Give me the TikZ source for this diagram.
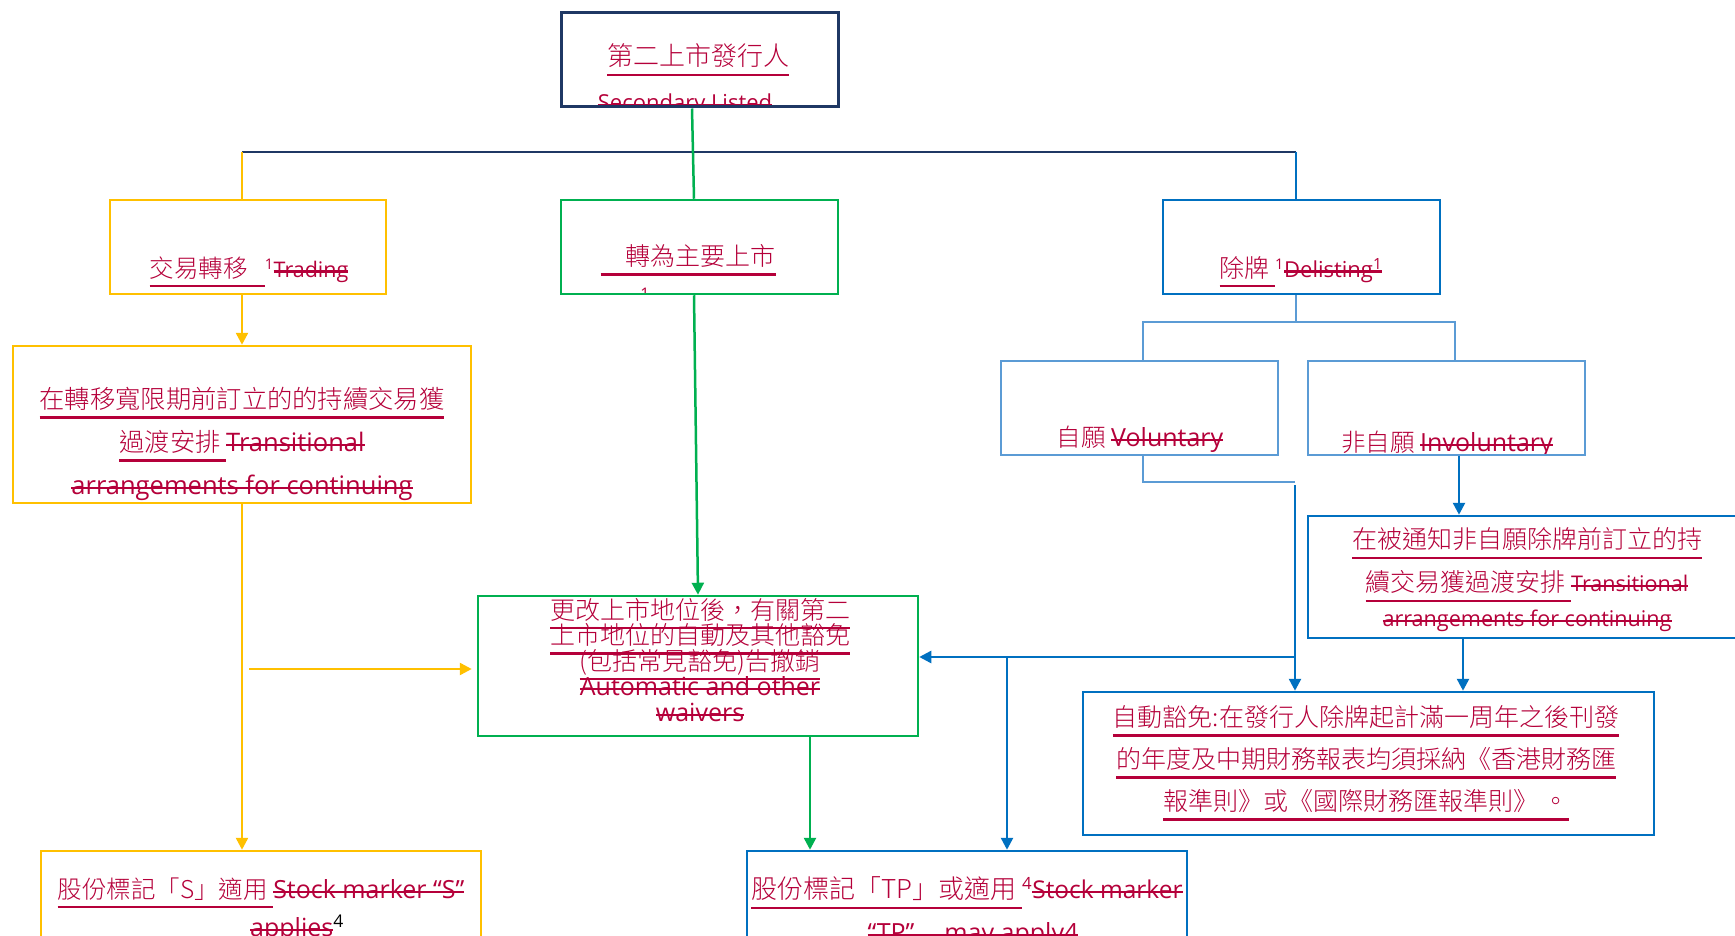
\documentclass[tikz,border=0pt]{standalone}
\usepackage{fontspec}
\usetikzlibrary{arrows.meta}
\setmainfont{Open Sans}
\newfontfamily\cjk{Noto Sans CJK TC Light}
\definecolor{navy}{HTML}{1F3864}
\definecolor{ylw}{HTML}{FFC000}
\definecolor{grn}{HTML}{00B050}
\definecolor{blu}{HTML}{0070C0}
\definecolor{lblu}{HTML}{5B9BD5}
\definecolor{ired}{HTML}{B5003A}
\setlength{\lineskiplimit}{-\maxdimen}
% underlined chinese, struck english
\newcommand{\zu}[2]{{\cjk\fontsize{#1}{#1}\selectfont\setbox0\hbox{#2}\rlap{\rule[-0.4em]{\wd0}{2.4pt}}\box0}}
\newcommand{\en}[2]{{\fontsize{#1}{#1}\selectfont\setbox0\hbox{#2}\rlap{\rule[0.22em]{\wd0}{2.2pt}}\box0}}
\tikzset{
  bx/.style={draw, line width=2.5pt, inner sep=0pt},
  txt/.style={text=ired, inner sep=0pt, align=center},
  arr/.style={-{Triangle[width=12pt,length=12pt]}, line width=2.5pt},
  thinln/.style={line width=1.5pt},
}
\begin{document}
\begin{tikzpicture}[x=1pt, y=-1pt]
\path[use as bounding box, fill=white] (0,0) rectangle (1735,936);
\clip (0,0) rectangle (1735,936);

% texts
\node[txt] (tTop) at (698,60) {\zu{26}{第二上市發行人}};
\begin{scope}
  \clip (561,13) rectangle (838,107);
  \node[txt, anchor=base] (tTop2) at (685,111) {\en{22}{Secondary Listed}};
\end{scope}
\node[txt, font=\fontsize{21}{26}\selectfont] (tTrade) at (249,272) {\zu{24.5}{交易轉移\hspace{0.7em}}\textsuperscript{1}\en{21.5}{Trading}};
\node[txt] (tPrim) at (688,260) {\zu{25}{　轉為主要上市}};
\begin{scope}
  \clip (561,200) rectangle (838,294);
  \node[txt, anchor=north, font=\fontsize{16}{16}\selectfont] (tPrim2) at (645,288) {1};
\end{scope}
\node[txt, font=\fontsize{21}{26}\selectfont] (tDelist) at (1301,272) {\zu{25}{除牌\ }\textsuperscript{1}\en{22}{Delisting\textsuperscript{1}}};
\node[txt, font=\fontsize{25.5}{43}\selectfont] (tTransY) at (242,444) {\zu{25.3}{在轉移寬限期前訂立的的持續交易獲}\\ \zu{25.3}{過渡安排\ }\en{25.5}{Transitional}\\ \en{25.5}{arrangements for continuing}};
\node[txt, font=\fontsize{25}{30}\selectfont] (tVol) at (1140,441) {\zu{24.5}{自願\ }\en{25}{Voluntary}};
\begin{scope}
  \clip (1308,361) rectangle (1585,455);
  \node[txt, font=\fontsize{25}{30}\selectfont] (tInvol) at (1447,446) {\zu{24.5}{非自願\ }\en{25}{Involuntary}};
\end{scope}
\node[txt, font=\fontsize{25}{25.5}\selectfont] (tWaiver) at (700,660) {\zu{25}{更改上市地位後，有關第二}\\ \zu{25}{上市地位的自動及其他豁免}\\ \zu{25}{(包括常見豁免)告撤銷}\\ \en{25}{Automatic and other}\\ \en{25}{waivers}};
\node[txt, font=\fontsize{21.6}{43}\selectfont] (tNotice) at (1527,580) {\zu{25}{在被通知非自願除牌前訂立的持}\\ \zu{25}{續交易獲過渡安排\ }\en{21.6}{Transitional}\\[-8pt] \en{21.6}{arrangements for continuing}};
\node[txt, font=\fontsize{25}{42}\selectfont] (tAuto) at (1366,763) {\zu{25}{自動豁免:在發行人除牌起計滿一周年之後刊發}\\ \zu{25}{的年度及中期財務報表均須採納《香港財務匯}\\ \zu{25}{報準則》或《國際財務匯報準則》 。}};
\node[txt, font=\fontsize{25}{30}\selectfont] (tMarkS) at (261,893) {\zu{24.5}{股份標記「S」適用\ }\en{25}{Stock marker “S”}};
\node[txt, font=\fontsize{25}{30}\selectfont] (tMarkS2) at (297,929) {\en{25}{applies}\textsuperscript{\color{black}4}};
\node[txt, font=\fontsize{24}{30}\selectfont] (tMarkTP) at (967,893) {\zu{26}{股份標記「TP」或適用\ }\textsuperscript{4}\en{24.5}{Stock marker}};
\node[txt, font=\fontsize{25}{30}\selectfont] (tMarkTP2) at (973,935) {\en{25}{“TP”\hspace{1.2em}may apply4}};

% boxes
\node[bx, draw=navy, line width=3pt, minimum width=277pt, minimum height=94pt] (top) at (699.5,60) {};
\node[bx, draw=ylw, minimum width=276pt, minimum height=94pt] (trade) at (248,247) {};
\node[bx, draw=grn, minimum width=277pt, minimum height=94pt] (prim) at (699.5,247) {};
\node[bx, draw=blu, minimum width=277pt, minimum height=94pt] (delist) at (1301.5,247) {};
\node[bx, draw=lblu, minimum width=277pt, minimum height=94pt] (vol) at (1139.5,408) {};
\node[bx, draw=lblu, minimum width=277pt, minimum height=94pt] (invol) at (1446.5,408) {};
\node[bx, draw=ylw, minimum width=458pt, minimum height=157pt] (transY) at (242,424.5) {};
\node[bx, draw=grn, minimum width=440pt, minimum height=140pt] (waiver) at (698,666) {};
\node[bx, draw=blu, minimum width=438pt, minimum height=122pt] (notice) at (1527,577) {};
\node[bx, draw=blu, minimum width=571pt, minimum height=143pt] (autoW) at (1368.5,763.5) {};
\node[bx, draw=ylw, minimum width=440pt, minimum height=150pt] (markS) at (261,926) {};
\node[bx, draw=blu, minimum width=440pt, minimum height=150pt] (markTP) at (967,926) {};

% top level split
\coordinate (busL) at (242,152);
\coordinate (busR) at (1296,152);
\draw[navy, thinln] (busL) -- (busR);
\draw[ylw, line width=2.5pt] (busL) -- (busL |- trade.north);
\draw[blu, thinln] (busR) -- (busR |- delist.north);
\draw[grn, line width=2.5pt] ([xshift=-7.5pt]top.south) -- ([xshift=-5.5pt]prim.north);
\draw[grn, arr] ([xshift=-5.5pt]prim.south) -- (waiver.north);

% left column
\draw[ylw, arr] (trade.south -| busL) -- (transY.north);
\draw[ylw, arr] (transY.south) -- (transY.south |- markS.north);
\coordinate (yRight) at (249,669);
\draw[ylw, arr] (yRight) -- ([xshift=-5pt]yRight -| waiver.west);
\coordinate (gDown) at ([xshift=112pt]waiver.south);
\draw[grn, arr] (gDown) -- (gDown |- markTP.north);

% delisting branch
\coordinate (dSplit) at (1296,322);
\draw[lblu, thinln] (dSplit |- delist.south) -- (dSplit);
\draw[lblu, thinln] ([xshift=3.5pt]vol.north) |- (dSplit) -| ([xshift=8.5pt]invol.north);
\coordinate (vJoin) at (1295,482);
\draw[lblu, thinln] ([xshift=3.5pt]vol.south) |- (vJoin);
\coordinate (vDown) at (1295,485);
\draw[blu, arr] (vDown) -- (vDown |- autoW.north);
\coordinate (hLeft) at (1295,657);
\draw[blu, arr] (hLeft) -- (hLeft -| waiver.east);
\coordinate (hDrop) at (1007,657);
\draw[blu, arr] (hDrop) -- (hDrop |- markTP.north);
\coordinate (iDown) at ([xshift=12.5pt]invol.south);
\draw[blu, arr] (iDown) -- (iDown |- notice.north);
\coordinate (nDown) at ([xshift=-64pt]notice.south);
\draw[blu, arr] (nDown) -- (nDown |- autoW.north);
%\draw[blu, thinln] (notice.east) -- ++(10,0);
\end{tikzpicture}
\end{document}
